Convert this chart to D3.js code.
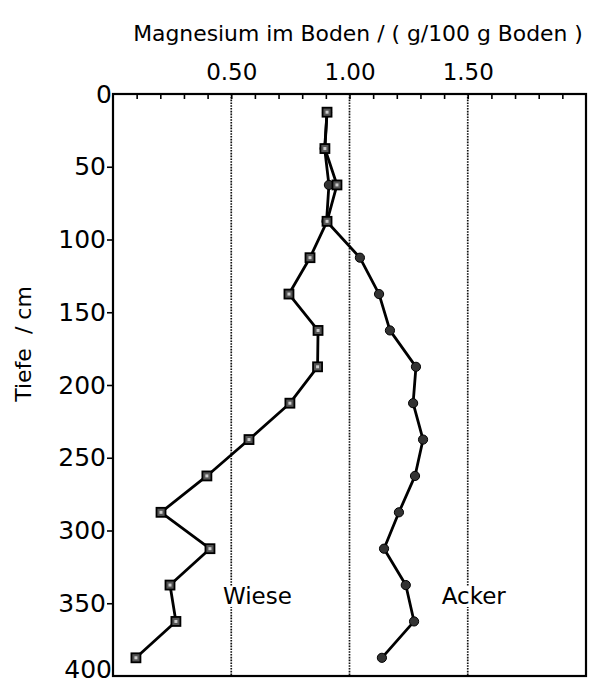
<!DOCTYPE html>
<html>
<head>
<meta charset="utf-8">
<script src="https://cdn.jsdelivr.net/npm/d3@7/dist/d3.min.js"></script>
<style>
  html, body { margin: 0; padding: 0; background: #fff; }
  svg { display: block; font-family: "DejaVu Sans", "Liberation Sans", Arial, sans-serif; }
</style>
</head>
<body>
<svg id="chart" width="603" height="685"></svg>
<script>
// ---- data ----
const depths = [12.5, 37.5, 62.5, 87.5, 112.5, 137.5, 162.5, 187.5, 212.5, 237.5, 262.5, 287.5, 312.5, 337.5, 362.5, 387.5];
const wiese  = [0.905, 0.896, 0.947, 0.905, 0.833, 0.744, 0.867, 0.865, 0.748, 0.575, 0.397, 0.203, 0.41, 0.241, 0.266, 0.097];
const acker  = [0.905, 0.895, 0.913, 0.903, 1.044, 1.125, 1.171, 1.281, 1.269, 1.311, 1.277, 1.209, 1.146, 1.238, 1.273, 1.137];
const xMajorTicks = [0.5, 1.0, 1.5];
const xMinorTicks = [0.1, 0.2, 0.3, 0.4, 0.5, 0.6, 0.7, 0.8, 0.9, 1.0, 1.1, 1.2, 1.3, 1.4, 1.5, 1.6, 1.7, 1.8, 1.9];
const yTicks = [0, 50, 100, 150, 200, 250, 300, 350, 400];
const xTitle = "Magnesium im Boden / ( g/100 g Boden )";
const yTitle = "Tiefe  / cm";
const seriesLabels = [{name: "Wiese", x: 0.465, y: 345}, {name: "Acker", x: 1.39, y: 345}];

// ---- layout ----
const L = 113, T = 94, R = 586, B = 676;
const svg = d3.select("#chart");
const x = d3.scaleLinear().domain([0, 2.0]).range([L, R]);
const y = d3.scaleLinear().domain([0, 400]).range([T, B]);
const FONT = "DejaVu Sans, Liberation Sans, Arial, sans-serif";

// dotted grid lines
svg.append("g").selectAll("line").data(xMajorTicks).join("line")
  .attr("x1", d => x(d)).attr("x2", d => x(d))
  .attr("y1", T).attr("y2", B)
  .attr("stroke", "#111").attr("stroke-width", 1.7)
  .attr("stroke-dasharray", "1.6,1.2");

// top axis (ticks inward)
const topAxis = d3.axisTop(x).tickValues(xMinorTicks).tickSize(-5).tickFormat("");
const gTop = svg.append("g").attr("transform", `translate(0,${T})`).call(topAxis);
gTop.select(".domain").remove();
gTop.selectAll("line").attr("stroke", "#000").attr("stroke-width", 1.6);

const topLabels = d3.axisTop(x).tickValues(xMajorTicks).tickSize(0).tickPadding(14).tickFormat(d3.format(".2f"));
const gTopL = svg.append("g").attr("transform", `translate(0,${T})`).call(topLabels);
gTopL.select(".domain").remove();
gTopL.selectAll("text").attr("font-size", 23).attr("fill", "#000").attr("font-family", FONT);

// left axis (ticks outward)
const leftAxis = d3.axisLeft(y).tickValues(yTicks).tickSize(6).tickPadding(1).tickFormat(d3.format("d"));
const gLeft = svg.append("g").attr("transform", `translate(${L},0)`).call(leftAxis);
gLeft.select(".domain").remove();
gLeft.selectAll("line").attr("stroke", "#000").attr("stroke-width", 1.6);
gLeft.selectAll("text").attr("font-size", 25).attr("fill", "#000").attr("font-family", FONT);
gLeft.selectAll(".tick").filter(d => d === 0 || d === 400).select("line").remove();
gLeft.selectAll(".tick").filter(d => d === 0 || d === 400).select("text").attr("x", -1);
gLeft.selectAll(".tick").filter(d => d === 400).select("text").attr("dy", "0.05em");

// frame
svg.append("rect").attr("x", L).attr("y", T).attr("width", R - L).attr("height", B - T)
  .attr("fill", "none").attr("stroke", "#000").attr("stroke-width", 2.2);

// series labels (white background interrupts dotted lines)
const gLab = svg.append("g");
seriesLabels.forEach(s => {
  const bgR = gLab.append("rect").attr("fill", "#fff");
  const t = gLab.append("text").attr("x", x(s.x)).attr("y", y(s.y)).attr("dy", "0.35em")
    .attr("text-anchor", "start").attr("font-size", 23).attr("fill", "#000")
    .attr("font-family", FONT).text(s.name);
  const bb = t.node().getBBox();
  bgR.attr("x", bb.x - 1).attr("y", bb.y + 3).attr("width", bb.width + 2).attr("height", bb.height - 5);
});

// lines
const line = d3.line().x(d => x(d[0])).y(d => y(d[1]));
const wData = wiese.map((v, i) => [v, depths[i]]);
const aData = acker.map((v, i) => [v, depths[i]]);
[aData, wData].forEach(data => {
  svg.append("path").datum(data).attr("d", line)
    .attr("fill", "none").attr("stroke", "#000").attr("stroke-width", 2.8)
    .attr("stroke-linejoin", "round");
});

// markers
svg.append("g").selectAll("circle").data(aData).join("circle")
  .attr("cx", d => x(d[0])).attr("cy", d => y(d[1])).attr("r", 4.6)
  .attr("fill", "#333").attr("stroke", "#000").attr("stroke-width", 1);
svg.append("g").selectAll("rect").data(wData).join("rect")
  .attr("x", d => x(d[0]) - 4.5).attr("y", d => y(d[1]) - 4.5)
  .attr("width", 9).attr("height", 9)
  .attr("fill", "#555").attr("stroke", "#000").attr("stroke-width", 1.8);
svg.append("g").selectAll("rect").data(wData).join("rect")
  .attr("x", d => x(d[0]) - 1.5).attr("y", d => y(d[1]) - 1.5)
  .attr("width", 3).attr("height", 3).attr("fill", "#ccc");

// titles
const tt = svg.append("text").attr("x", 358).attr("y", 41).attr("text-anchor", "middle")
  .attr("font-size", 20).attr("fill", "#000").attr("font-family", FONT).text(xTitle);
const w = tt.node().getComputedTextLength();
tt.attr("font-size", 20 * 450 / w);

svg.append("text").attr("transform", `translate(31,344) rotate(-90)`)
  .attr("text-anchor", "middle").attr("font-size", 22).attr("fill", "#000")
  .attr("font-family", FONT).style("white-space", "pre").text(yTitle);
</script>
</body>
</html>
